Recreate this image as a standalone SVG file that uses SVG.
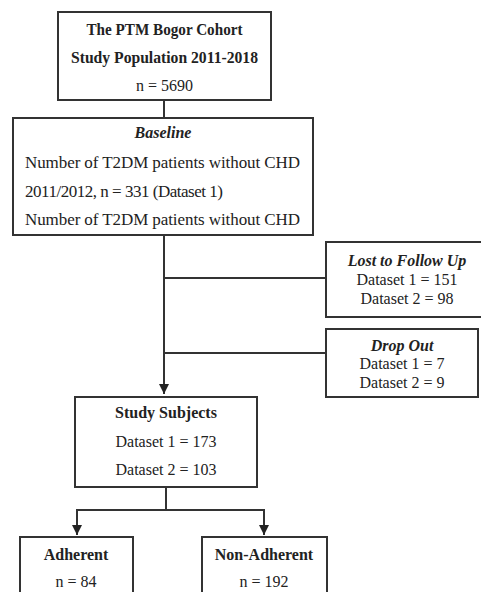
<svg xmlns="http://www.w3.org/2000/svg" width="481" height="592" viewBox="0 0 481 592">
<style>
.box{fill:#fff;stroke:#333;stroke-width:2}
.ln{fill:none;stroke:#333;stroke-width:2}
text{font-family:"Liberation Serif","Times New Roman",serif;font-size:16px;fill:#222}
.c{text-anchor:middle}
.b{font-weight:bold}
.bi{font-weight:bold;font-style:italic}
.lg{font-size:17px}
</style>
<defs>
<marker id="ah" viewBox="0 0 10 10" refX="10" refY="5" markerWidth="5" markerHeight="5" orient="auto" markerUnits="strokeWidth">
<path d="M0,0 L10,5 L0,10 Z" fill="#222"/>
</marker>
</defs>
<rect width="481" height="592" fill="#fff"/>
<g id="connectors">
<line class="ln" x1="164" y1="100" x2="164" y2="118"/>
<line class="ln" x1="164" y1="235" x2="164" y2="394" marker-end="url(#ah)"/>
<line class="ln" x1="164" y1="278" x2="326" y2="278"/>
<line class="ln" x1="164" y1="353" x2="326" y2="353"/>
<polyline class="ln" points="166,487 166,510 77,510 77,535" marker-end="url(#ah)"/>
<polyline class="ln" points="166,510 264,510 264,535" marker-end="url(#ah)"/>
</g>
<g id="cohort">
<rect class="box" x="58" y="12" width="213" height="88"/>
<text class="c b" x="164.5" y="35" textLength="156" lengthAdjust="spacingAndGlyphs">The PTM Bogor Cohort</text>
<text class="c b" x="164.5" y="63" textLength="187" lengthAdjust="spacingAndGlyphs">Study Population 2011-2018</text>
<text class="c" x="164.5" y="91">n = 5690</text>
</g>
<g id="baseline">
<rect class="box" x="13" y="118" width="300" height="117"/>
<text class="c bi" x="163" y="138">Baseline</text>
<text class="lg" x="25" y="168" textLength="275">Number of T2DM patients without CHD</text>
<text class="lg" x="25" y="197" textLength="198">2011/2012, n = 331 (Dataset 1)</text>
<text class="lg" x="25" y="225" textLength="275">Number of T2DM patients without CHD</text>
</g>
<g id="lost">
<rect class="box" x="326" y="242" width="160" height="75"/>
<text class="c bi" x="407" y="266">Lost to Follow Up</text>
<text class="c" x="407" y="285">Dataset 1 = 151</text>
<text class="c" x="407" y="304">Dataset 2 = 98</text>
</g>
<g id="dropout">
<rect class="box" x="326" y="329" width="152" height="68"/>
<text class="c bi" x="402" y="351">Drop Out</text>
<text class="c" x="402" y="369">Dataset 1 = 7</text>
<text class="c" x="402" y="388">Dataset 2 = 9</text>
</g>
<g id="subjects">
<rect class="box" x="75" y="397" width="182" height="90"/>
<text class="c b" x="166" y="418">Study Subjects</text>
<text class="c" x="166" y="447">Dataset 1 = 173</text>
<text class="c" x="166" y="475">Dataset 2 = 103</text>
</g>
<g id="adherent">
<rect class="box" x="20" y="537" width="113" height="70"/>
<text class="c b" x="76" y="560">Adherent</text>
<text class="c" x="76" y="587">n = 84</text>
</g>
<g id="nonadherent">
<rect class="box" x="202" y="537" width="125" height="70"/>
<text class="c b" x="264" y="560">Non-Adherent</text>
<text class="c" x="264" y="587">n = 192</text>
</g>
</svg>
